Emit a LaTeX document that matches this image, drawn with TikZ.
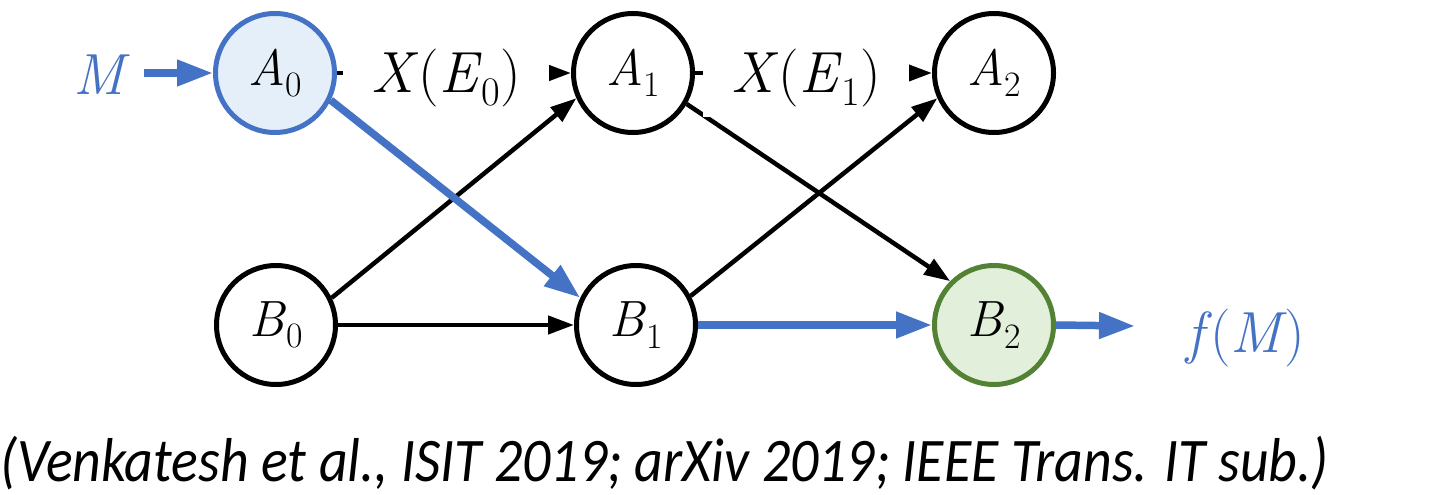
\documentclass[tikz,border=0pt]{standalone}
\usepackage{fontspec}
\newfontfamily\capfont{Carlito}
\usetikzlibrary{arrows.meta}
\definecolor{oblue}{HTML}{4472C4}
\definecolor{lblue}{HTML}{E5EFF9}
\definecolor{ogreen}{HTML}{548235}
\definecolor{lgreen}{HTML}{E2EFDA}
\newcommand\sbs[1]{\raisebox{-0.22em}{\scalebox{0.7}{#1}}}
\newcommand\mi[1]{{\itshape #1\/}}
\tikzset{
  st/.style={circle, draw=black, line width=5pt, minimum size=119pt, inner sep=0pt, font=\fontsize{51}{60}\selectfont},
  blk/.style={draw=black, line width=4.5pt, -{Triangle[length=26pt,width=18pt]}},
  blu/.style={draw=oblue, line width=7.5pt, -{Triangle[length=36pt,width=25pt]}},
  lab/.style={fill=white, inner sep=0pt, minimum width=206pt, minimum height=78pt, font=\fontsize{58}{68}\selectfont},
  outer/.style={text=oblue, inner sep=0pt, anchor=base west, font=\fontsize{58}{68}\selectfont}
}
\begin{document}
\begin{tikzpicture}[x=1pt,y=-1pt]
\useasboundingbox[fill=white] (0,0) rectangle (1438,495);
% nodes
\node[st, draw=oblue, fill=lblue] (A0) at (275,73) {\mi{A}\sbs{0}};
\node[st] (A1) at (633,73) {\mi{A}\sbs{1}};
\node[st] (A2) at (994,73) {\mi{A}\sbs{2}};
\node[st] (B0) at (276,325) {\mi{B}\sbs{0}};
\node[st] (B1) at (636,325) {\mi{B}\sbs{1}};
\node[st, draw=ogreen, fill=lgreen] (B2) at (994,325) {\mi{B}\sbs{2}};
\node[outer] (M) at (73,95) {\mi{M}};
\node[outer] (fM) at (1186,352) {\mi{f}\kern-2pt(\mi{M}\kern-3pt)};
\coordinate (Mout) at (144,73);
\coordinate (fMin) at (1135,326);
% black edges
\draw[blk] (A0.east) -- (A1.west);
\draw[blk] (A1.east) -- (A2.west);
\draw[blk] (B0.26) -- (A1.204);
\draw[blk] (B0.east) -- (B1.west);
\draw[blk] (B1.28) -- (A2.204);
\draw[blk] (A1.-30) -- (B2.135);
% edge labels (white boxes over the black lines)
\node[lab] (L0) at (446,78) {\mi{X}(\mi{E}\sbs{0})};
\node[lab] (L1) at (806,78) {\mi{X}(\mi{E}\sbs{1})};
% blue paths
\draw[blu] (Mout) -- (A0.west);
\draw[blu] (A0.-26) -- (B1.154);
\draw[blu] (B1.east) -- (B2.west);
\draw[blu] (B2.east) -- (fMin);
% citation
\node[anchor=base west, inner sep=0pt, font=\capfont\itshape\fontsize{62}{66}\selectfont] (cite) at (0,481)
  {\scalebox{0.9}[1]{(Venkatesh et al., ISIT 2019; arXiv 2019; IEEE Trans. IT sub.)}};
\end{tikzpicture}
\end{document}
